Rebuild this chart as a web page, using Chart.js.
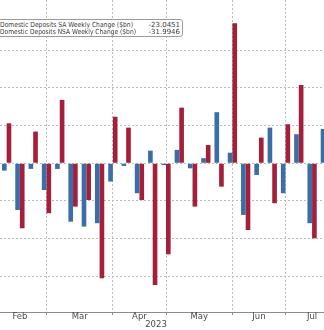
<!DOCTYPE html>
<html>
<head>
<meta charset="utf-8">
<script src="https://cdn.jsdelivr.net/npm/chart.js@4.4.0/dist/chart.umd.min.js"></script>
<style>
  html, body {
    margin: 0;
    padding: 0;
    width: 324px;
    height: 330px;
    overflow: hidden;
    background: #fff;
  }
  #wrap {
    position: absolute;
    left: 0;
    top: 0;
    width: 332px;
    height: 330px;
  }
  #legend {
    position: absolute;
    left: -30px;
    top: 19px;
    width: 211px;
    height: 16px;
    border: 1px solid #9a9a9a;
    border-radius: 3px;
    background: #fff;
    font-family: "DejaVu Sans", sans-serif;
    font-size: 7px;
    color: #3a3a3a;
  }
  #legend .row {
    position: absolute;
    left: 29px;
    right: 2px;
    height: 7px;
    line-height: 7px;
    white-space: nowrap;
  }
  #legend .name {
    display: inline-block;
    transform-origin: 0 50%;
  }
  #legend .val {
    position: absolute;
    right: 0;
    top: 0;
  }
</style>
</head>
<body>
<div id="wrap"><canvas id="depositsChart"></canvas></div>
<div id="legend">
  <div class="row" style="top:2px"><span class="name">Domestic Deposits SA Weekly Change ($bn)</span><span class="val">-23.0451</span></div>
  <div class="row" style="top:9px"><span class="name">Domestic Deposits NSA Weekly Change ($bn)</span><span class="val">-31.9946</span></div>
</div>
<script>
// Недели (среда, данные H.8)
const weeks = [
  "2023-02-08", "2023-02-15", "2023-02-22",
  "2023-03-01", "2023-03-08", "2023-03-15", "2023-03-22", "2023-03-29",
  "2023-04-05", "2023-04-12", "2023-04-19", "2023-04-26",
  "2023-05-03", "2023-05-10", "2023-05-17", "2023-05-24", "2023-05-31",
  "2023-06-07", "2023-06-14", "2023-06-21", "2023-06-28",
  "2023-07-05", "2023-07-12", "2023-07-19", "2023-07-26",
];

// Изменение депозитов, млрд $
const saChange = [
  -3.9, -24.8, -3.0,
  -14.2, -3.0, -31.0, -33.6, -31.8,
  -9.7, -1.4, -15.9, 6.7,
  -1.0, 7.1, -2.7, 2.7, 27.1,
  5.6, -27.4, -6.2, 18.9,
  -15.9, 15.4, -31.8, 18.2,
];
const nsaChange = [
  21.2, -34.5, 16.8,
  -26.5, 33.6, -23.0, -19.5, -61.0,
  24.7, 18.9, -19.5, -64.6,
  -48.3, 29.5, -23.0, 9.7, -12.4,
  74.3, -35.4, 13.6, -21.2,
  20.7, 41.5, -39.8, null,
];

// Подписи месяцев и первые недели месяцев (границы)
const monthNames = ["Feb", "Mar", "Apr", "May", "Jun", "Jul"];
const monthStarts = [
  "2023-02-01", "2023-03-01", "2023-04-05", "2023-05-03",
  "2023-06-07", "2023-07-05", "2023-08-02",
];
const yearLabel = "2023";

const Y_MIN = -78.9;
const Y_MAX = 86.6;
const Y_STEP = 20;

const DAY = 24 * 3600 * 1000;
function weekIndex(d) {
  return (new Date(d) - new Date(weeks[0])) / (7 * DAY);
}

function isMonthStart(label) {
  return monthStarts.includes(label);
}

function onStep(v) {
  return Math.abs(v / Y_STEP - Math.round(v / Y_STEP)) < 1e-6;
}

// Подписи месяцев между делениями + год
const monthLabelsPlugin = {
  id: "monthLabels",
  afterDraw(chart) {
    const ctx = chart.ctx;
    const x = chart.scales.x;
    const bottom = chart.chartArea.bottom;
    ctx.save();
    ctx.fillStyle = "#4a4a4a";
    ctx.font = "8.5px 'DejaVu Sans', sans-serif";
    ctx.textAlign = "center";
    ctx.textBaseline = "middle";
    for (let i = 0; i < monthNames.length; i++) {
      const a = x.getPixelForValue(weekIndex(monthStarts[i]));
      const b = x.getPixelForValue(weekIndex(monthStarts[i + 1]));
      ctx.fillText(monthNames[i], (a + b) / 2, bottom + 5);
    }
    ctx.fillText(yearLabel, 156, bottom + 13);
    ctx.restore();
  },
};

// Сжимаем подписи легенды до ширины оригинала
function fitLegend() {
  const targets = [133, 136];
  document.querySelectorAll("#legend .name").forEach((el, i) => {
    const w = el.getBoundingClientRect().width;
    if (w > 0) el.style.transform = `scaleX(${targets[i] / w})`;
  });
}

function initChart() {
  const el = document.getElementById("depositsChart");

  new Chart(el, {
    type: "bar",
    data: {
      labels: weeks,
      datasets: [
        {
          label: "Domestic Deposits SA Weekly Change ($bn)",
          data: saChange,
          backgroundColor: "#3a6ea6",
        },
        {
          label: "Domestic Deposits NSA Weekly Change ($bn)",
          data: nsaChange,
          backgroundColor: "#a61f3a",
        },
      ],
    },
    options: {
      responsive: true,
      maintainAspectRatio: false,
      animation: false,
      layout: { padding: 0 },
      datasets: {
        bar: {
          categoryPercentage: 0.7,
          barPercentage: 1.0,
          borderWidth: 0,
        },
      },
      scales: {
        x: {
          offset: true,
          grid: {
            offset: false,
            color: (c) => (c.tick && isMonthStart(c.tick.label) ? "#bcbcbc" : "transparent"),
            tickColor: (c) => (c.tick && isMonthStart(c.tick.label) ? "#8c8c8c" : "transparent"),
            tickLength: 3,
            drawTicks: true,
          },
          border: {
            display: true,
            color: "#8c8c8c",
            width: 1,
            dash: [2, 2],
          },
          ticks: { display: false },
          afterFit: (s) => {
            s.height = 18;
          },
        },
        y: {
          min: Y_MIN,
          max: Y_MAX,
          ticks: { display: false, stepSize: Y_STEP },
          grid: {
            color: (c) => (c.tick && onStep(c.tick.value) ? "#bcbcbc" : "transparent"),
            drawTicks: false,
          },
          border: { display: false, dash: [2, 2] },
          afterFit: (s) => {
            s.width = 0;
          },
        },
      },
      plugins: {
        legend: { display: false },
        tooltip: { enabled: false },
      },
    },
    plugins: [monthLabelsPlugin],
  });
}

document.addEventListener("DOMContentLoaded", () => {
  fitLegend();
  initChart();
});
</script>
</body>
</html>
